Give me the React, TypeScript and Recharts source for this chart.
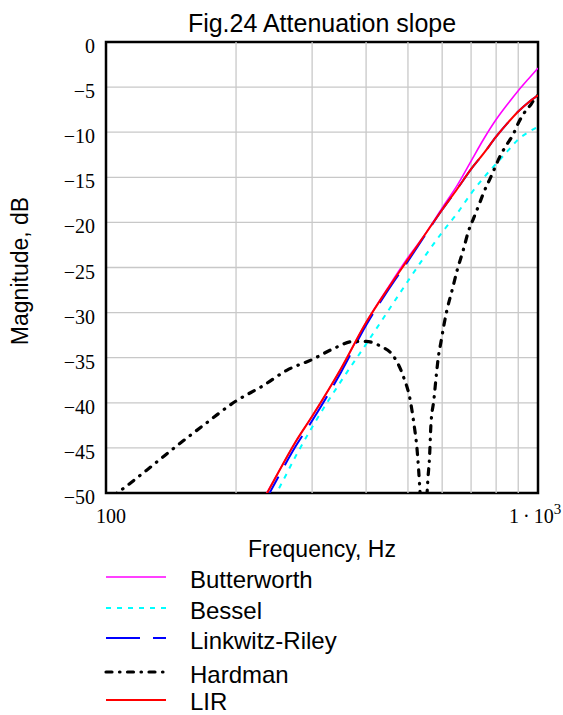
import React from "react"
import {
  CartesianGrid,
  Line,
  LineChart,
  ReferenceArea,
  ReferenceLine,
  XAxis,
  YAxis,
} from "recharts"

// frequency points (Hz) shared by the four smooth curves
const freq = [230, 250, 275, 300, 350, 400, 450, 500, 550, 600, 650, 700, 750, 800, 850, 900, 950, 1000]
const butterworth = [-50.9, -47.8, -44.3, -41.5, -36.2, -31.1, -27.2, -23.9, -21.2, -18.4, -15.9, -13.2, -10.7, -8.6, -6.9, -5.4, -4.1, -2.9]
const bessel = [-52.6, -49.7, -45.9, -42.7, -37.6, -33.5, -29.8, -26.5, -23.6, -21.1, -19.0, -16.8, -15.0, -13.5, -12.1, -10.8, -10.0, -9.4]
const linkwitzRiley = [-51.5, -48.3, -44.8, -42.0, -36.6, -31.4, -27.5, -24.3, -21.3, -18.6, -16.3, -14.1, -12.3, -10.5, -9.0, -7.7, -6.7, -5.9]
const lir = [-51.0, -47.8, -44.3, -41.5, -36.2, -31.1, -27.3, -24.1, -21.2, -18.6, -16.3, -14.1, -12.3, -10.5, -9.0, -7.7, -6.7, -5.9]

const hardmanFreq = [103, 106, 124, 143, 168, 200, 231, 262, 300, 336, 374, 400, 431, 464, 488, 506, 515, 526, 532, 536, 543, 550, 556, 561, 565, 574, 582, 588, 596, 605, 615, 632, 650, 672, 690, 710, 728, 750, 777, 797, 818, 846, 875, 900, 925, 967, 985, 1000]
const hardman = [-50.4, -50.0, -47.5, -45.1, -42.5, -39.8, -38.1, -36.4, -35.2, -34.0, -33.2, -33.2, -33.7, -34.9, -37.1, -39.7, -42.0, -45.7, -49.1, -52.0, -62.0, -53.0, -48.5, -46.0, -42.5, -39.7, -36.8, -34.9, -33.3, -31.5, -29.8, -27.6, -25.3, -23.0, -21.0, -19.5, -18.2, -16.6, -15.0, -13.8, -12.6, -11.4, -10.3, -9.0, -8.0, -6.8, -6.2, -5.9]

const xTicks = [100, 1000]
const yTicks = [-50, -45, -40, -35, -30, -25, -20, -15, -10, -5, 0]
const minorFreq = [200, 300, 400, 500, 600, 700, 800, 900]

const mainData = freq.map((f, i) => ({
  f,
  butterworth: butterworth[i],
  bessel: bessel[i],
  lr: linkwitzRiley[i],
  lir: lir[i],
}))
const hardmanData = hardmanFreq.map((f, i) => ({ f, hardman: hardman[i] }))

const series = [
  { key: "butterworth", name: "Butterworth", color: "#ff00ff", dash: undefined, width: 1.6, cap: "butt" },
  { key: "bessel", name: "Bessel", color: "#00ffff", dash: "5 6", width: 2, cap: "butt" },
  { key: "lr", name: "Linkwitz-Riley", color: "#0000ff", dash: "34 13", width: 2, cap: "butt" },
  { key: "hardman", name: "Hardman", color: "#000000", dash: "6 7.5 0.5 7.5", width: 3.2, cap: "round" },
  { key: "lir", name: "LIR", color: "#ff0000", dash: undefined, width: 2, cap: "butt" },
]

const SERIF = "'Liberation Serif', 'Times New Roman', serif"
const SANS = "'Liberation Sans', Arial, sans-serif"
const GRID = "#c8c8c8"

const XTick = ({ x, y, payload }: any) =>
  payload.value === 1000 ? (
    <text x={x - 29} y={y + 30} style={{ fontFamily: SERIF, fontSize: 20 }} fill="#000">
      1{"\u2009·\u2009"}10
      <tspan dy={-9} style={{ fontSize: 15 }}>3</tspan>
    </text>
  ) : (
    <text x={x + 5} y={y + 30} textAnchor="middle" style={{ fontFamily: SERIF, fontSize: 20 }} fill="#000">
      {payload.value}
    </text>
  )

const YTick = ({ x, y, payload }: any) => (
  <text x={x} y={y + 11} textAnchor="end" style={{ fontFamily: SERIF, fontSize: 20 }} fill="#000">
    {payload.value < 0 ? `\u2212${Math.abs(payload.value)}` : "0"}
  </text>
)

const legendLineY = [577, 608, 638, 672, 700]
const legendTextY = [588, 619, 649, 683, 710]

export default function App() {
  return (
    <div style={{ position: "absolute", left: 0, top: 0, width: 563, height: 715, background: "#fff" }}>
      <LineChart
        width={563}
        height={715}
        data={mainData}
        margin={{ top: 42, right: 25, bottom: 0, left: 0 }}
      >
        <CartesianGrid vertical={false} stroke={GRID} strokeWidth={1.3} />
        {minorFreq.map((f) => (
          <ReferenceLine key={f} x={f} stroke={GRID} strokeWidth={1.3} />
        ))}
        <XAxis
          dataKey="f"
          type="number"
          scale="log"
          domain={[100, 1000]}
          ticks={xTicks}
          interval={0}
          allowDataOverflow
          axisLine={false}
          tickLine={false}
          tickSize={0}
          tickMargin={0}
          height={222}
          tick={<XTick />}
        />
        <YAxis
          type="number"
          domain={[-50, 0]}
          ticks={yTicks}
          interval={0}
          allowDataOverflow
          axisLine={false}
          tickLine={false}
          tickSize={0}
          tickMargin={11}
          width={106}
          tick={<YTick />}
        />
        {series.map((s) => (
          <Line
            key={s.key}
            data={s.key === "hardman" ? hardmanData : undefined}
            dataKey={s.key}
            type="monotone"
            stroke={s.color}
            strokeWidth={s.width}
            strokeDasharray={s.dash}
            strokeLinecap={s.cap as any}
            dot={false}
            activeDot={false}
            isAnimationActive={false}
          />
        ))}
        <ReferenceArea x1={100} x2={1000} y1={-50} y2={0} fill="none" stroke="#000" strokeWidth={2.5} />
      </LineChart>
      <svg
        width={563}
        height={715}
        style={{ position: "absolute", left: 0, top: 0, pointerEvents: "none" }}
      >
        <text x={322} y={32} textAnchor="middle" fontFamily={SANS} fontSize={25} fill="#000">
          Fig.24 Attenuation slope
        </text>
        <text x={322} y={557} textAnchor="middle" fontFamily={SANS} fontSize={23} fill="#000">
          Frequency, Hz
        </text>
        <text
          transform="translate(28,271) rotate(-90)"
          textAnchor="middle"
          fontFamily={SANS}
          fontSize={23}
          fill="#000"
        >
          Magnitude, dB
        </text>
        {series.map((s, i) => (
          <g key={s.key}>
            <line
              x1={106}
              x2={166}
              y1={legendLineY[i]}
              y2={legendLineY[i]}
              stroke={s.color}
              strokeWidth={s.width}
              strokeDasharray={s.dash}
              strokeLinecap={s.cap as any}
            />
            <text x={190} y={legendTextY[i]} fontFamily={SANS} fontSize={24} fill="#000">
              {s.name}
            </text>
          </g>
        ))}
      </svg>
    </div>
  )
}
